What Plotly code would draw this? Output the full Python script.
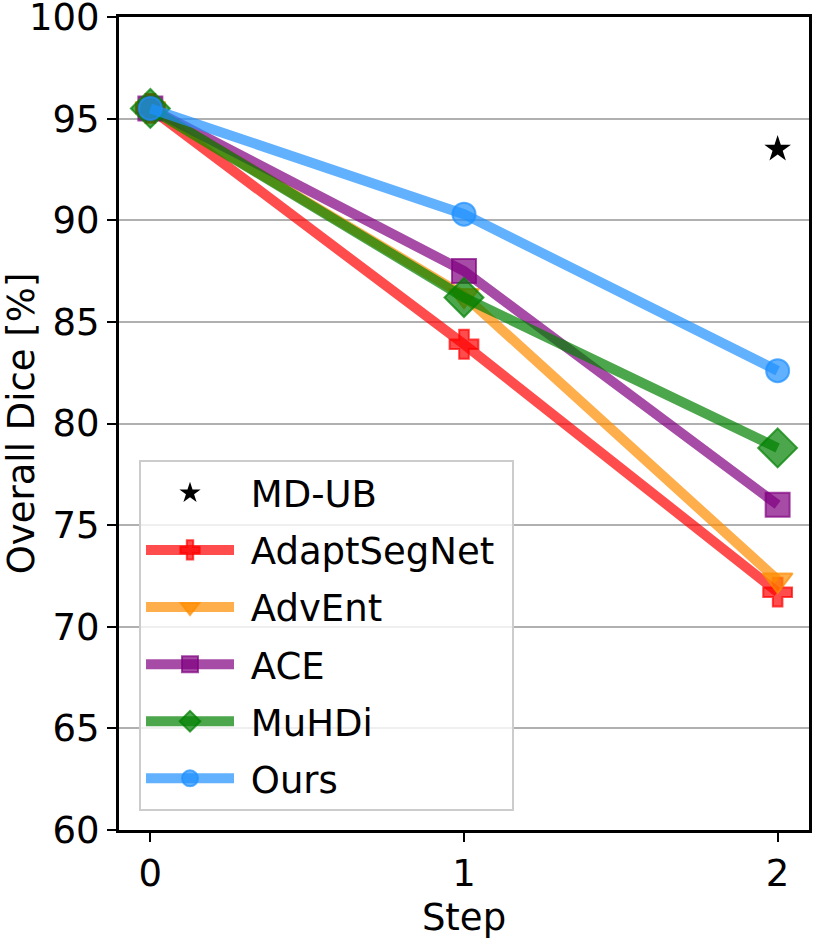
import plotly.graph_objects as go

steps = [0, 1, 2]
methods = ["AdaptSegNet", "AdvEnt", "ACE", "MuHDi", "Ours"]
adaptsegnet = [95.5, 83.9, 71.7]
advent = [95.5, 86.3, 72.3]
ace = [95.5, 87.5, 76.0]
muhdi = [95.5, 86.2, 78.8]
ours = [95.5, 90.3, 82.6]
mdub_step = [2]
mdub_value = [93.5]
y_ticks = [60, 65, 70, 75, 80, 85, 90, 95, 100]
x_ticks = [0, 1, 2]

series = [adaptsegnet, advent, ace, muhdi, ours]
colors = ["255,0,0", "255,140,0", "128,0,128", "0,128,0", "30,144,255"]
symbols = ["cross", "triangle-down", "square", "diamond", "circle"]
sizes = [24, 26, 24, 30, 23]

FONT = "DejaVu Sans"
PAD = "\u00a0"
fig = go.Figure()

fig.add_trace(go.Scatter(
    x=mdub_step, y=mdub_value, mode="markers", name=PAD + "MD-UB",
    legendgroup="mdub",
    marker=dict(symbol="star", size=20, color="black"),
))

for name, vals, c, sym, sz in zip(methods, series, colors, symbols, sizes):
    fig.add_trace(go.Scatter(
        x=steps, y=vals, mode="lines+markers", name=PAD + name + PAD,
        legendgroup=name,
        line=dict(color=f"rgba({c},0.7)", width=10),
        marker=dict(symbol=sym, size=sz, color=f"rgba({c},0.7)",
                    line=dict(color=f"rgba({c},0.7)", width=2)),
    ))

fig.update_layout(
    width=813, height=939,
    margin=dict(l=119, r=4, t=17, b=109),
    plot_bgcolor="white", paper_bgcolor="white",
    font=dict(family=FONT, size=37, color="black"),
    showlegend=True,
    legend=dict(
        x=0.029, y=0.023, xanchor="left", yanchor="bottom",
        bgcolor="rgba(255,255,255,0.8)", bordercolor="#cccccc", borderwidth=2,
        font=dict(family=FONT, size=37), itemwidth=88,
        tracegroupgap=6,
    ),
    xaxis=dict(
        range=[-0.1, 2.1], tickvals=x_ticks, ticks="outside", ticklen=9,
        tickwidth=2, tickcolor="black", showgrid=False, zeroline=False,
        showline=True, linecolor="black", linewidth=3, mirror=True,
        automargin=False,
        title=dict(text="Step", standoff=12, font=dict(size=37)),
    ),
    yaxis=dict(
        range=[60, 100], tickvals=y_ticks, ticks="outside", ticklen=9,
        tickwidth=2, tickcolor="black", showgrid=True, gridcolor="#b0b0b0",
        gridwidth=2, zeroline=False, ticklabeloverflow="allow",
        showline=True, linecolor="black", linewidth=3, mirror=True,
        automargin=False,
        title=dict(text="Overall Dice [%]", standoff=8, font=dict(size=37)),
    ),
)

fig.write_html(
    "out.html",
    config={"displayModeBar": False},
    post_script="document.body.style.margin='0';document.body.style.overflow='hidden';",
)
